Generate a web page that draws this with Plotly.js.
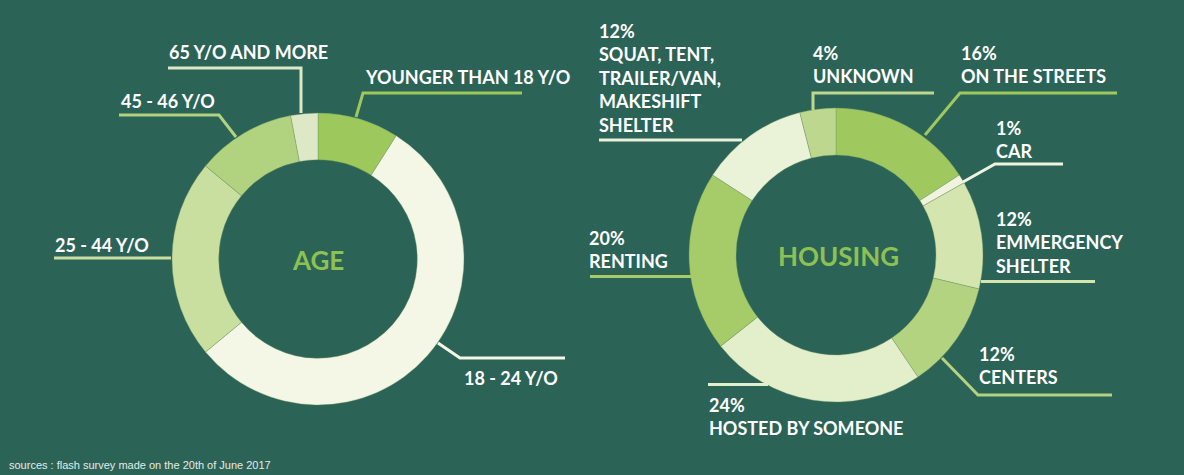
<!DOCTYPE html>
<html>
<head>
<meta charset="utf-8">
<script src="https://cdn.plot.ly/plotly-3.0.1.min.js"></script>
<style>
  html, body { margin: 0; padding: 0; background: #2b6357; }
  #chart { width: 1184px; height: 475px; }
</style>
</head>
<body>
<div id="chart"></div>
<script>
// ---------- DATA ----------
const ageCategories = ['YOUNGER THAN 18 Y/O', '18 - 24 Y/O', '25 - 44 Y/O', '45 - 46 Y/O', '65 Y/O AND MORE'];
const ageValues = [9, 55, 22, 11, 3];

const housingCategories = ['ON THE STREETS', 'CAR', 'EMMERGENCY<br>SHELTER', 'CENTERS', 'HOSTED BY SOMEONE', 'RENTING', 'SQUAT, TENT,<br>TRAILER/VAN,<br>MAKESHIFT<br>SHELTER', 'UNKNOWN'];
const housingValues = [16, 1, 12, 12, 24, 20, 12, 4];

const chartTitles = ['AGE', 'HOUSING'];
const sourceNote = 'sources : flash survey made on the 20th of June 2017';

// ---------- STYLE / LAYOUT ----------
const W = 1184, H = 475;
const BG = '#2b6357';
const ageColors = ['#9cc85c', '#f4f7e6', '#c9dfa0', '#b1d27f', '#dde9c6'];
const housingColors = ['#9fc95f', '#f0f4df', '#d4e5b0', '#b3d381', '#e3eecb', '#a5cc68', '#eaf2d8', '#bdd78f'];

// donut geometry in pixels: centre and outer radius
const ageGeom = { cx: 318, cy: 259, r: 146 };
const housingGeom = { cx: 836, cy: 255, r: 147 };

// label anchor (left x, vertical centre y) in pixels, per slice
const ageLabelPos = [[364, 77], [463, 377.5], [54, 245], [120, 101], [168, 51.5]];
const housingLabelPos = [[960, 64.5], [995, 139.5], [995, 242.5], [978, 365.5], [708, 416], [588, 249], [598, 77.5], [812, 64.5]];

// leader line polylines in pixels, per slice
const ageLeaders = [
  [[356, 117], [363, 93], [522, 93]],
  [[438, 343], [460, 358], [565, 358]],
  [[171, 258], [54, 258]],
  [[236, 137], [219, 115], [119, 115]],
  [[301, 113], [301, 68], [168, 68]]
];
const housingLeaders = [
  [[925, 135], [960, 93], [1117, 93]],
  [[963, 182], [995, 164], [1063, 164]],
  [[981, 281.5], [1095, 281.5]],
  [[942, 358], [978, 395], [1112, 395]],
  [[768, 384.5], [708, 384.5]],
  [[691, 276.5], [590, 276.5]],
  [[742, 140], [599, 140]],
  [[813, 110], [813, 93], [934, 93]]
];

const px = x => x / W;
const py = y => 1 - y / H;

function domainOf(g) {
  return { x: [px(g.cx - g.r), px(g.cx + g.r)], y: [py(g.cy + g.r), py(g.cy - g.r)] };
}

function pieTrace(labels, values, colors, geom, name) {
  return {
    type: 'pie',
    name: name,
    labels: labels,
    values: values,
    hole: 0.68,
    sort: false,
    direction: 'clockwise',
    rotation: 0,
    textinfo: 'none',
    hoverinfo: 'label+percent',
    marker: { colors: colors, line: { color: 'rgba(110,150,95,0.55)', width: 0.7 } },
    domain: domainOf(geom),
    showlegend: false
  };
}

const shapes = [];
function addLeaders(list, colors) {
  list.forEach((pts, i) => {
    let d = '';
    pts.forEach((p, k) => { d += (k === 0 ? 'M' : 'L') + px(p[0]) + ',' + py(p[1]); });
    shapes.push({ type: 'path', xref: 'paper', yref: 'paper', path: d,
      line: { color: colors[i], width: 3 }, layer: 'above' });
  });
}
addLeaders(ageLeaders, ageColors);
addLeaders(housingLeaders, housingColors);

const labelFont = { family: 'Lato, sans-serif', size: 18, color: '#ffffff', weight: 700 };
const annotations = [];
ageCategories.forEach((c, i) => {
  annotations.push({ xref: 'paper', yref: 'paper', x: px(ageLabelPos[i][0]), y: py(ageLabelPos[i][1]),
    xanchor: 'left', yanchor: 'middle', align: 'left', showarrow: false, text: c, font: labelFont, borderpad: 0 });
});
housingCategories.forEach((c, i) => {
  annotations.push({ xref: 'paper', yref: 'paper', x: px(housingLabelPos[i][0]), y: py(housingLabelPos[i][1]),
    xanchor: 'left', yanchor: 'middle', align: 'left', showarrow: false,
    text: housingValues[i] + '%<br>' + c, font: labelFont, borderpad: 0 });
});
[ageGeom, housingGeom].forEach((g, i) => {
  annotations.push({ xref: 'paper', yref: 'paper', x: px(g.cx + (i ? 2 : 0)), y: py(g.cy + 1),
    xanchor: 'center', yanchor: 'middle', showarrow: false, text: chartTitles[i],
    font: { family: 'Lato, sans-serif', size: 26, color: '#8dc153', weight: 700 } });
});
annotations.push({ xref: 'paper', yref: 'paper', x: px(7), y: py(465), xanchor: 'left', yanchor: 'middle',
  showarrow: false, text: sourceNote, font: { family: '"Liberation Sans", Arial, sans-serif', size: 11, color: '#e4ebe6' } });

const layout = {
  width: W, height: H,
  margin: { l: 0, r: 0, t: 0, b: 0 },
  paper_bgcolor: BG, plot_bgcolor: BG,
  showlegend: false,
  shapes: shapes,
  annotations: annotations
};

Plotly.newPlot('chart', [
  pieTrace(ageCategories, ageValues, ageColors, ageGeom, 'Age'),
  pieTrace(housingCategories, housingValues, housingColors, housingGeom, 'Housing')
], layout, { displayModeBar: false, staticPlot: true });
</script>
</body>
</html>
